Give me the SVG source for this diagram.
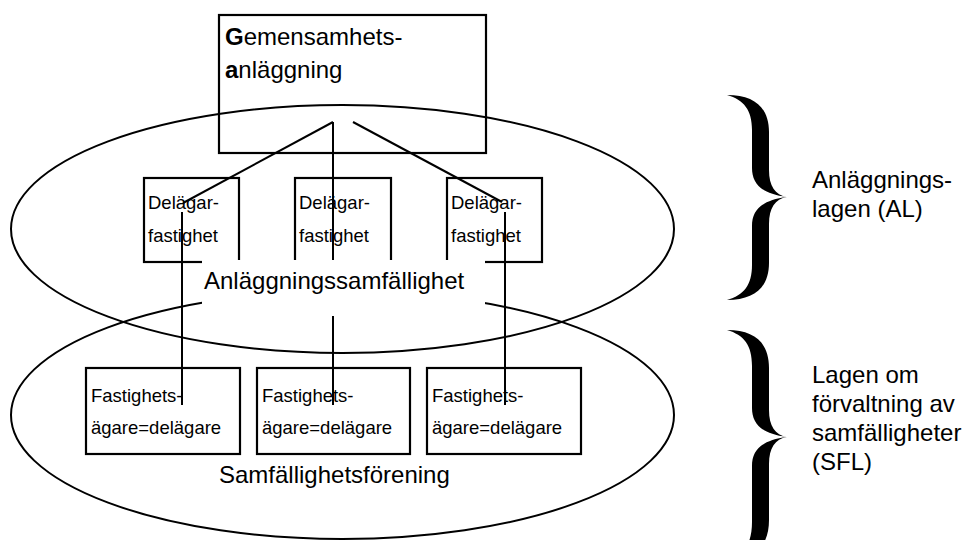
<svg xmlns="http://www.w3.org/2000/svg" width="962" height="540" viewBox="0 0 962 540">
<style>
  .ln { fill: none; stroke: #000; stroke-width: 2; }
  .box { fill: none; stroke: #000; stroke-width: 2.2; }
  .t { font-family: "Liberation Sans", Arial, sans-serif; fill: #000; }
  .big { font-size: 24px; }
  .small { font-size: 18.5px; }
  .brace { fill: #000; stroke: none; }
</style>
<rect width="962" height="540" fill="#fff"/>

<g id="ellipse-al">
  <ellipse class="ln" cx="342.5" cy="229" rx="331.5" ry="124"/>
</g>
<g id="ellipse-sfl">
  <ellipse class="ln" cx="342.5" cy="415" rx="331.5" ry="124"/>
</g>

<g id="gemensamhetsanlaggning">
  <rect class="box" x="219" y="15" width="267" height="138"/>
  <text class="t big" x="225" y="45"><tspan font-weight="bold">G</tspan>emensamhets-</text>
  <text class="t big" x="225" y="78"><tspan font-weight="bold">a</tspan>nläggning</text>
</g>

<g id="delagarfastighet-1">
  <rect class="box" x="144" y="178" width="95" height="84"/>
  <text class="t small" x="148" y="209">Delägar-</text>
  <text class="t small" x="148" y="242">fastighet</text>
</g>
<g id="delagarfastighet-2">
  <rect class="box" x="295" y="178" width="96" height="84"/>
  <text class="t small" x="299" y="209">Delägar-</text>
  <text class="t small" x="299" y="242">fastighet</text>
</g>
<g id="delagarfastighet-3">
  <rect class="box" x="447" y="178" width="95" height="84"/>
  <text class="t small" x="451" y="209">Delägar-</text>
  <text class="t small" x="451" y="242">fastighet</text>
</g>

<g id="fastighetsagare-1">
  <rect class="box" x="86" y="368" width="154" height="86"/>
  <text class="t small" x="91" y="402">Fastighets-</text>
  <text class="t small" x="91" y="434">ägare=delägare</text>
</g>
<g id="fastighetsagare-2">
  <rect class="box" x="257" y="368" width="153" height="86"/>
  <text class="t small" x="262" y="402">Fastighets-</text>
  <text class="t small" x="262" y="434">ägare=delägare</text>
</g>
<g id="fastighetsagare-3">
  <rect class="box" x="427" y="368" width="154" height="86"/>
  <text class="t small" x="432" y="402">Fastighets-</text>
  <text class="t small" x="432" y="434">ägare=delägare</text>
</g>

<g id="connectors">
  <line class="ln" x1="333" y1="122" x2="183" y2="203"/>
  <line class="ln" x1="333" y1="122" x2="333" y2="405"/>
  <line class="ln" x1="353" y1="122" x2="502" y2="202"/>
  <line class="ln" x1="182" y1="212" x2="182" y2="405"/>
  <line class="ln" x1="505" y1="212" x2="505" y2="405"/>
</g>

<g id="anlaggningssamfallighet">
  <rect x="202" y="260" width="283" height="56" fill="#fff"/>
  <text class="t big" x="204" y="289">Anläggningssamfällighet</text>
</g>

<g id="samfallighetsforening">
  <text class="t big" x="219" y="483">Samfällighetsförening</text>
</g>

<g id="brace-al">
  <path class="brace" d="M727,95 C755,95 769,108 769,132 L769,170 C769,186 775,195 787,197 C775,199 769,208 769,224 L769,263 C769,287 755,300 727,300 C744,295 752,285 752,265 L752,226 C752,210 762,200 787,197 C762,194 752,184 752,168 L752,130 C752,110 744,100 727,95 Z"/>
  <text class="t big" x="812" y="188">Anläggnings-</text>
  <text class="t big" x="812" y="217">lagen (AL)</text>
</g>

<g id="brace-sfl">
  <path class="brace" d="M727,330 C755,330 769,343 769,368 L769,410 C769,426 775,435 787,437 C775,439 769,448 769,464 L769,520 C769,546 755,560 727,560 C744,555 752,544 752,522 L752,466 C752,450 762,440 787,437 C762,434 752,424 752,408 L752,366 C752,345 744,335 727,330 Z"/>
  <text class="t big" x="812" y="383">Lagen om</text>
  <text class="t big" x="812" y="412">förvaltning av</text>
  <text class="t big" x="812" y="441">samfälligheter</text>
  <text class="t big" x="812" y="470">(SFL)</text>
</g>
</svg>
